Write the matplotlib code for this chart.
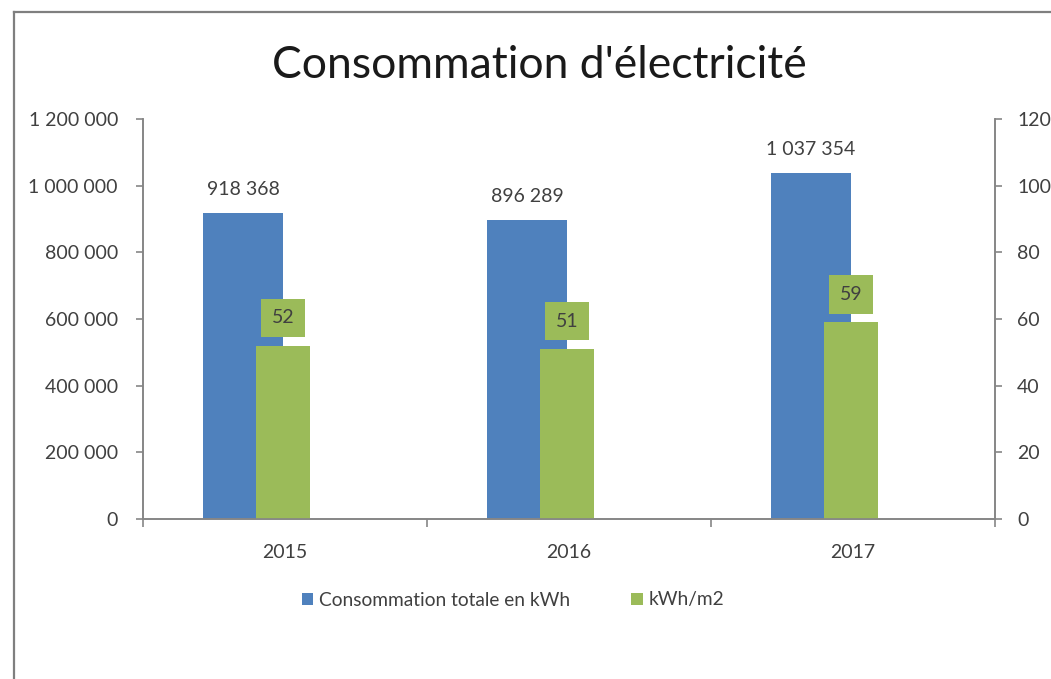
import numpy as np
import matplotlib.pyplot as plt
from matplotlib.lines import Line2D
from matplotlib.ticker import FuncFormatter

years = ["2015", "2016", "2017"]
conso_kwh = [918368, 896289, 1037354]
kwh_m2 = [52, 51, 59]

blue = "#4F81BD"
green = "#9BBB59"
axis_col = "#868686"
txt_col = "#404040"

plt.rcParams['font.family'] = ['Lato', 'DejaVu Sans']

fig = plt.figure(figsize=(10.51, 6.79), dpi=100)
W, H = 1051, 679

# outer chart frame (cut off at right and bottom)
fig.add_artist(Line2D([14 / W, 14 / W], [0, 1 - 12 / H], transform=fig.transFigure, color="#7f7f7f", lw=1.6))
fig.add_artist(Line2D([14 / W, 1], [1 - 12 / H, 1 - 12 / H], transform=fig.transFigure, color="#7f7f7f", lw=1.6))

ax = fig.add_axes([143 / W, 1 - 519 / H, (995 - 143) / W, (519 - 119) / H])
ax2 = ax.twinx()

x = np.arange(len(years))
b1 = ax.bar(x - 0.289, conso_kwh, width=0.282, align='edge', color=blue, label="Consommation totale en kWh")
b2 = ax2.bar(x - 0.102, kwh_m2, width=0.19, align='edge', color=green, label="kWh/m2")

ax.set_xlim(-0.5, 2.5)
ax.set_ylim(0, 1200000)
ax2.set_ylim(0, 120)
ax.set_yticks(np.arange(0, 1200001, 200000))
ax2.set_yticks(np.arange(0, 121, 20))
ax.yaxis.set_major_formatter(FuncFormatter(lambda v, p: f"{int(v):,}".replace(",", " ")))

ax.set_xticks(x)
ax.set_xticklabels(years)
ax.set_xticks([-0.5, 0.5, 1.5, 2.5], minor=True)
ax.tick_params(axis='x', which='major', length=0, pad=18, labelsize=14, labelcolor=txt_col)
ax.tick_params(axis='x', which='minor', length=6, width=1.2, color=axis_col)
ax.tick_params(axis='y', length=5, width=1.2, color=axis_col, pad=13, labelsize=14, labelcolor=txt_col)
ax2.tick_params(axis='y', length=5, width=1.2, color=axis_col, pad=11, labelsize=14, labelcolor=txt_col)

for a in (ax, ax2):
    a.spines['top'].set_visible(False)
    for s in ('left', 'right', 'bottom'):
        a.spines[s].set_color(axis_col)
        a.spines[s].set_linewidth(1.2)

# value labels
for xi, v in zip(x, conso_kwh):
    ax.annotate(f"{v:,}".replace(",", " "), (xi - 0.148, v), xytext=(0, 13), textcoords='offset points',
                ha='center', va='baseline', fontsize=14, color=txt_col)
for xi, v in zip(x, kwh_m2):
    ax2.annotate(str(v), (xi - 0.007, v), xytext=(0, 20), textcoords='offset points',
                 ha='center', va='center', fontsize=14, color=txt_col,
                 bbox=dict(boxstyle='square,pad=0.55', fc=green, ec='none'))

fig.text(539 / W, 1 - 78 / H, "Consommation d'électricité", ha='center', va='baseline', fontsize=32, color="#1a1a1a")

fig.legend(handles=[b1, b2], loc='center', bbox_to_anchor=(513 / W, 1 - 600 / H), ncol=2, frameon=False,
           fontsize=13.8, handlelength=0.6, handleheight=0.6, handletextpad=0.3, columnspacing=3.2,
           labelcolor=txt_col)

fig.savefig("out.png", dpi=100)
